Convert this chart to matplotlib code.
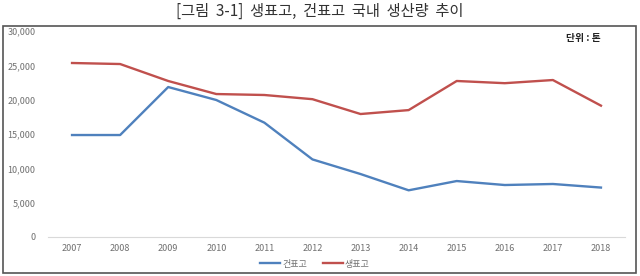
import matplotlib
matplotlib.use('Agg')
import matplotlib.pyplot as plt
from matplotlib.patches import Rectangle

plt.rcParams['font.family'] = ['Noto Sans CJK KR', 'DejaVu Sans']

years = ['2007', '2008', '2009', '2010', '2011', '2012',
         '2013', '2014', '2015', '2016', '2017', '2018']
dried = [14850, 14850, 21840, 19950, 16650, 11300,
         9170, 6800, 8150, 7570, 7720, 7200]      # 건표고
fresh = [25340, 25190, 22720, 20820, 20680, 20070,
         17910, 18480, 22720, 22400, 22860, 19130]  # 생표고
yticks = [0, 5000, 10000, 15000, 20000, 25000, 30000]

fig = plt.figure(figsize=(6.4, 2.76), dpi=100)
fig.patch.set_facecolor('white')

# outer box
fig.patches.append(Rectangle((3 / 640, 3 / 276), 633 / 640, 247 / 276,
                             transform=fig.transFigure, fill=False,
                             edgecolor='#555555', linewidth=1.2))

fig.text(0.5, 1 - 11 / 276, '[그림  3-1]  생표고,  건표고  국내  생산량  추이',
         ha='center', va='center', fontsize=11, color='#333333')

ax = fig.add_axes([48 / 640, 39 / 276, 577 / 640, 206 / 276])
x = range(len(years))
ax.plot(x, dried, color='#4f81bd', linewidth=1.7, label='건표고')
ax.plot(x, fresh, color='#c0504d', linewidth=1.7, label='생표고')

ax.set_xlim(-0.5, len(years) - 0.5)
ax.set_ylim(0, 30000)
ax.set_xticks(list(x))
ax.set_xticklabels(years)
ax.set_yticks(yticks)
ax.set_yticklabels([f'{v:,}' for v in yticks])
ax.tick_params(length=0, labelsize=6.5, colors='#707070')
ax.tick_params(axis='x', pad=5)
ax.tick_params(axis='y', pad=9)
for s in ['top', 'right', 'left']:
    ax.spines[s].set_visible(False)
ax.spines['bottom'].set_color('#d9d9d9')
ax.spines['bottom'].set_linewidth(0.8)

fig.text(601 / 640, 1 - 38 / 276, '단위 : 톤', ha='right', va='center',
         fontsize=7, fontweight='bold', color='#222222')

fig.legend(loc='center', bbox_to_anchor=(315 / 640, 1 - 264 / 276), ncol=2,
           frameon=False, fontsize=6.5, handlelength=2.2, columnspacing=1.8,
           handletextpad=0.2, labelcolor='#707070')

fig.savefig('out.png', dpi=100, facecolor='white')
